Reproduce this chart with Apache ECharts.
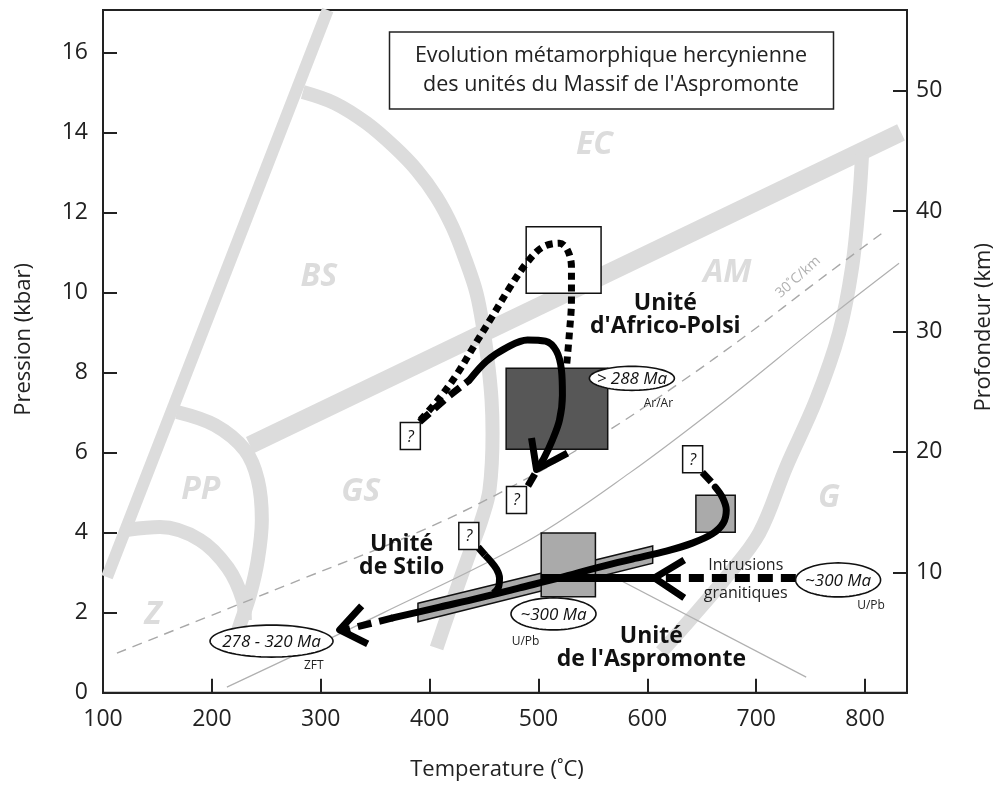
<!DOCTYPE html>
<html><head><meta charset="utf-8">
<script src="https://cdn.jsdelivr.net/npm/echarts@6/dist/echarts.min.js"></script>
<style>html,body{margin:0;padding:0;background:#fff}#c{width:1003px;height:789px}</style>
</head><body><div id="c"></div>
<script>
const FONT = '"Open Sans", "Noto Sans", sans-serif';
// ---- axes ----
const tempRange = [100, 838.5];
const pressRange = [0, 17.07];
const depthRange = [0, 56.7];
const tempTicks = [100, 200, 300, 400, 500, 600, 700, 800];
const pressTicks = [0, 2, 4, 6, 8, 10, 12, 14, 16];
const depthTicks = [10, 20, 30, 40, 50];

// ---- facies boundaries (T °C, P kbar) ----
const bandBSwest = [[103.7, 2.89], [306.4, 17.07]];
const bandBSEC = [[283.5,15.02],[312.8,14.74],[342.2,14.24],[367.9,13.64],[388.1,13.07],[406.4,12.39],[421.1,11.64],[433.0,10.82],[443.1,9.99],[449.5,9.07],[454.1,8.14],[456.9,7.32],[457.8,6.49],[455.0,5.07],[447.7,4.32],[439.4,3.69],[429.4,2.94],[418.3,2.07],[406.4,1.12]];
const bandAMEC = [[234.9, 6.19], [833.0, 14.01]];
const bandPP = [[167.9,7.02],[202.8,6.69],[230.3,6.07],[242.2,5.32],[245.9,4.32],[242.2,3.32],[234.9,2.44],[225.7,1.69],[218.3,1.07]];
const bandZ = [[122.9,4.07],[152.3,4.14],[189.0,3.82],[214.7,3.12],[228.4,2.32],[230.3,1.82]];
const bandAMG = [[797.2,13.44],[794.5,12.32],[788.1,10.64],[776.1,8.99],[755.0,7.32],[727.5,5.64],[702.8,3.99],[672.5,2.89],[641.3,1.89],[612.8,1.02]];

// ---- geotherms ----
const geotherm30 = [[112.8,0.99],[280.7,2.82],[400.0,4.14],[491.7,5.39],[565.1,6.57],[629.4,7.74],[693.6,8.99],[757.8,10.32],[815.6,11.49]];
const geothermSolid = [[213.8,0.14],[356.9,1.99],[491.7,3.82],[583.5,5.49],[672.5,7.32],[757.8,9.19],[831.2,10.74]];
const thinLineSE = [[514.7,3.67],[745.9,0.39]];

// ---- P-T boxes [Tmin, Tmax, Pmin, Pmax] ----
const peakBox = [488.7, 557.5, 9.99, 11.65];
const africoBox = [470.3, 563.6, 6.09, 8.11];
const aspBox = [502.5, 552.3, 2.40, 3.99];
const smallBox = [644.6, 680.7, 4.01, 4.94];
const stiloBand = [[389.3,2.235],[604.9,3.67],[604.9,3.24],[389.3,1.775]];

// ---- P-T paths ----
const africoDotted = [[391.7,6.82],[409.2,7.37],[425.7,7.99],[441.3,8.69],[457.8,9.42],[473.4,10.12],[489.0,10.74],[503.7,11.14],[519.3,11.24],[526.6,11.07],[530.3,10.64],[530.3,9.82],[528.4,8.99],[525.7,8.14]];
const africoDashed = [[390.8,6.77],[415.6,7.37],[436.7,7.82]];
const africoSolid = [[436.7,7.82],[452.3,8.29],[471.6,8.64],[489.9,8.82],[506.4,8.79],[516.5,8.54],[521.1,8.07],[522.0,7.44],[519.3,6.82],[512.8,6.32],[505.5,5.89],[500.0,5.64]];
const africoArrow = [[493.6,6.37],[498.2,5.58],[526.6,5.99]];
const africoTail = [[496.7,5.47],[490.3,5.17]];
const aspStart = [[650.5,5.51],[658.7,5.27]];
const aspSolid = [[662.4,5.14],[668.8,4.89],[672.5,4.57],[669.7,4.24],[659.6,3.97],[641.3,3.74],[617.4,3.54],[586.2,3.34],[556.0,3.14],[519.3,2.87],[482.6,2.62],[445.9,2.37],[409.2,2.14],[366.1,1.87]];
const aspTail = [[366.1,1.87],[322.0,1.57]];
const aspArrow = [[337.6,2.17],[317.4,1.57],[343.1,1.22]];
const stiloStart = [[444.5,3.64],[450.9,3.44]];
const stiloSolid = [[450.9,3.44],[456.0,3.29],[461.5,3.09],[464.2,2.87],[463.3,2.64],[458.7,2.49]];
const intrusionSolid = [[502.0,2.87],[606.4,2.87]];
const intrusionDashed = [[617.0,2.87],[736.7,2.87]];
const intrusionArrow = [[633.9,3.32],[606.4,2.87],[633.9,2.37]];

// ---- annotations ----
const questionPos = [[382.3,6.42],[479.8,4.82],[436.0,3.92],[641.6,5.84]];
const ageLabels = ['> 288 Ma', '~300 Ma', '~300 Ma', '278 - 320 Ma'];
const agePos = [[585.8,7.86],[513.8,1.97],[775.2,2.82],[254.8,1.29]];
const methodLabels = ['Ar/Ar', 'U/Pb', 'U/Pb', 'ZFT'];
const methodPos = [[610.1,7.22],[488.1,1.27],[805.5,2.17],[293.6,0.69]];
const faciesLabels = ['BS','EC','AM','PP','GS','Z','G'];
const faciesPos = [[298.2,10.39],[551.4,13.69],[673.4,10.49],[189.9,5.07],[336.7,5.02],[145.9,1.94],[767.0,4.87]];
const unitLabels = ['Unité\nd\'Africo-Polsi', 'Unité\nde Stilo', 'Unité\nde l\'Aspromonte'];
const unitPos = [[616.5,9.44],[374.3,3.42],[603.7,1.12]];
const intrusionLabel = ['Intrusions\ngranitiques'];
const intrusionPos = [[690.4,2.84]];
const gradientLabel = ['30˚C/km'];
const gradientPos = [[738.5,10.39]];
const titleLines = ['Evolution métamorphique hercynienne', 'des unités du Massif de l\'Aspromonte'];

// ---- styles (pixel sizes) ----
const ageSize = [[85,24],[85,32],[85,34],[123,32]];
const BAND = '#dcdcdc';

function line(data, color, width, dash, z, smooth, cap) {
  return {type:'line', data, showSymbol:false, symbol:'none', smooth: smooth === undefined ? 0.35 : smooth,
    lineStyle:{color, width, type: dash || 'solid', cap: cap || 'butt', join:'round'}, z, silent:true, animation:false};
}
function rectSeries(box, fill, z) {
  return {type:'custom', z, silent:true, animation:false, data:[box], clip:false,
    renderItem:(p, api) => {
      const a = api.coord([api.value(0), api.value(3)]);
      const b = api.coord([api.value(1), api.value(2)]);
      return {type:'rect', shape:{x:a[0], y:a[1], width:b[0]-a[0], height:b[1]-a[1]},
        style:{fill, stroke:'#111', lineWidth:1.5}};
    }};
}
function textSeries(labels, pos, st, z, rot) {
  return {type:'custom', z, silent:true, animation:false, data:pos, clip:false,
    renderItem:(p, api) => {
      const c = api.coord([api.value(0), api.value(1)]);
      return {type:'text', x:c[0], y:c[1], rotation: rot || 0,
        style:Object.assign({text:labels[p.dataIndex], align:'center', verticalAlign:'middle', fontFamily:FONT}, st)};
    }};
}

const series = [
  line(bandBSwest, BAND, 12, null, 1, false),
  line(bandBSEC, BAND, 14, null, 1),
  line(bandAMEC, BAND, 18, null, 1, false),
  line(bandPP, BAND, 14, null, 1),
  line(bandZ, BAND, 14, null, 1),
  line(bandAMG, BAND, 14, null, 1),
  line(geotherm30, '#a8a8a8', 1.4, [10,7], 2),
  line(geothermSolid, '#b0b0b0', 1.2, null, 2),
  line(thinLineSE, '#b0b0b0', 1.2, null, 2, false),
  {type:'custom', z:3, silent:true, animation:false, data:[0], clip:false,
    renderItem:(p, api) => ({type:'polygon', shape:{points: stiloBand.map(q => api.coord(q))},
      style:{fill:'#aaaaaa', stroke:'#111', lineWidth:1.5}})},
  rectSeries(peakBox, '#ffffff', 3),
  rectSeries(africoBox, '#575757', 3),
  rectSeries(aspBox, '#aaaaaa', 3),
  rectSeries(smallBox, '#aaaaaa', 3),
  line(africoDotted, '#000', 7, [7,5], 4),
  line(africoDashed, '#000', 7, [13,7], 4, false),
  line(africoSolid, '#000', 7, null, 4, 0.35, 'round'),
  line(africoArrow, '#000', 7, null, 4, false),
  line(africoTail, '#000', 7, null, 4, false),
  line(aspStart, '#000', 7, null, 4, false),
  line(aspSolid, '#000', 7, null, 4, 0.35, 'round'),
  line(aspTail, '#000', 7, [14,8], 4, false),
  line(aspArrow, '#000', 7, null, 4, false),
  line(stiloStart, '#000', 7, null, 4, false),
  line(stiloSolid, '#000', 7, null, 4, 0.35),
  line(intrusionSolid, '#000', 8, null, 4, false),
  line(intrusionDashed, '#000', 8, [15,8], 4, false),
  line(intrusionArrow, '#000', 7, null, 4, false),
  // question boxes
  {type:'custom', z:5, silent:true, animation:false, data:questionPos, clip:false,
    renderItem:(p, api) => {
      const c = api.coord([api.value(0), api.value(1)]);
      return {type:'group', children:[
        {type:'rect', shape:{x:c[0]-10, y:c[1]-13.5, width:20, height:27}, style:{fill:'#fff', stroke:'#111', lineWidth:1.5}},
        {type:'text', x:c[0], y:c[1]+1, style:{text:'?', align:'center', verticalAlign:'middle', fontFamily:FONT, fontStyle:'italic', fontSize:16, fill:'#111'}}
      ]};
    }},
  // age ellipses
  {type:'custom', z:5, silent:true, animation:false, data:agePos, clip:false,
    renderItem:(p, api) => {
      const c = api.coord([api.value(0), api.value(1)]);
      const s = ageSize[p.dataIndex];
      const pts = [];
      for (let i = 0; i < 72; i++) { const t = i / 72 * 2 * Math.PI; pts.push([c[0] + s[0]/2*Math.cos(t), c[1] + s[1]/2*Math.sin(t)]); }
      return {type:'group', children:[
        {type:'polygon', shape:{points:pts}, style:{fill:'#fff', stroke:'#111', lineWidth:1.6}},
        {type:'text', x:c[0], y:c[1]+1, style:{text:ageLabels[p.dataIndex], align:'center', verticalAlign:'middle', fontFamily:FONT, fontStyle:'italic', fontSize:17, fill:'#111'}}
      ]};
    }},
  textSeries(methodLabels, methodPos, {fontSize:12, fill:'#222'}, 6),
  textSeries(faciesLabels, faciesPos, {fontSize:32, fontWeight:'bold', fontStyle:'italic', fill:'#dcdcdc'}, 1),
  textSeries(unitLabels, unitPos, {fontSize:23, fontWeight:'bold', fill:'#111', lineHeight:23}, 6),
  textSeries(intrusionLabel, intrusionPos, {fontSize:16, fill:'#222', lineHeight:28}, 6),
  textSeries(gradientLabel, gradientPos, {fontSize:14, fill:'#b0b0b0'}, 2, 42 * Math.PI / 180)
];

const axisCommon = {
  type:'value', splitLine:{show:false},
  axisLine:{show:true, lineStyle:{color:'#222', width:2}},
  axisTick:{show:true, inside:true, length:14, lineStyle:{color:'#222', width:2}},
  nameTextStyle:{fontFamily:FONT, fontSize:22, color:'#222'}
};

const option = {
  animation:false,
  backgroundColor:'#fff',
  grid:{left:103, right:95, top:10, bottom:96.3, show:true, borderColor:'#222', borderWidth:2, backgroundColor:'transparent'},
  xAxis:Object.assign({}, axisCommon, {min:tempRange[0], max:tempRange[1], interval:100,
    axisLabel:{fontFamily:FONT, fontSize:23, color:'#222', margin:15, showMaxLabel:false,
      formatter:v => tempTicks.includes(v) ? String(v) : ''},
    name:'Temperature (˚C)', nameLocation:'middle', nameGap:66,
    nameTextStyle:{fontFamily:FONT, fontSize:22, color:'#222', padding:[0,16,0,0]}}),
  yAxis:[
    Object.assign({}, axisCommon, {min:pressRange[0], max:pressRange[1], interval:2, position:'left',
      axisLabel:{fontFamily:FONT, fontSize:23, color:'#222', margin:15, showMaxLabel:false,
        formatter:v => pressTicks.includes(v) ? String(v) : ''},
      name:'Pression (kbar)', nameLocation:'middle', nameGap:68,
      nameTextStyle:{fontFamily:FONT, fontSize:22, color:'#222', padding:[0,0,0,24]}}),
    Object.assign({}, axisCommon, {min:depthRange[0], max:depthRange[1], interval:10, position:'right',
      axisLabel:{fontFamily:FONT, fontSize:23, color:'#222', margin:9, showMaxLabel:false,
        formatter:v => depthTicks.includes(v) ? String(v) : ''},
      name:'Profondeur (km)', nameLocation:'middle', nameGap:66,
      nameTextStyle:{fontFamily:FONT, fontSize:22, color:'#222', padding:[0,0,0,48]}})
  ],
  graphic:[
    {type:'rect', shape:{x:389.5, y:32, width:444, height:77}, style:{fill:'#fff', stroke:'#222', lineWidth:1.5}, z:10},
    {type:'text', x:611, y:70, z:11, style:{text:titleLines.join('\n'), align:'center', verticalAlign:'middle',
      fontFamily:FONT, fontSize:21.5, lineHeight:29, fill:'#222'}}
  ],
  series
};
const chart = echarts.init(document.getElementById('c'));
chart.setOption(option);
</script>
</body></html>
